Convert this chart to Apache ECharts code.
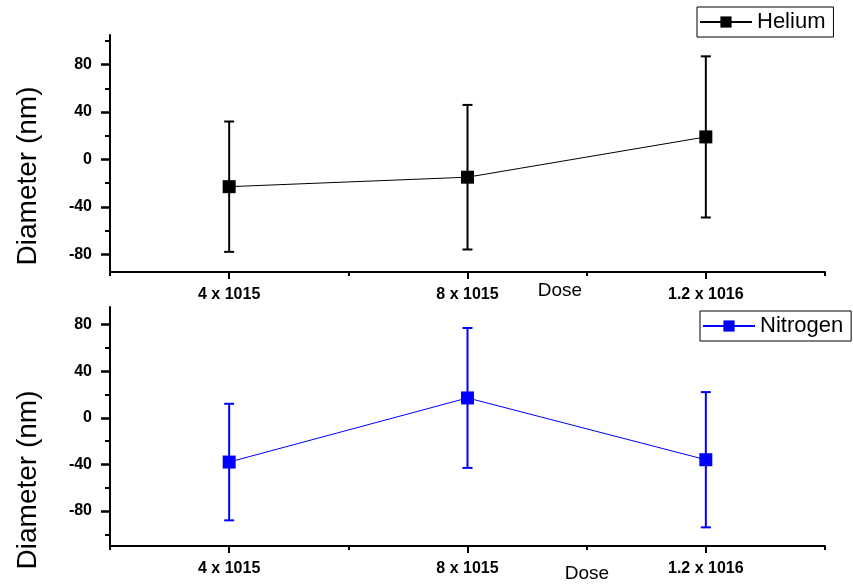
<!DOCTYPE html>
<html>
<head>
<meta charset="utf-8">
<script src="https://cdn.jsdelivr.net/npm/echarts@6/dist/echarts.min.js"></script>
<style>
  html, body { margin: 0; padding: 0; background: #fff; }
  #chart { width: 853px; height: 585px; }
</style>
</head>
<body>
<div id="chart"></div>
<script>
  var doses = ['4 x 1015', '8 x 1015', '1.2 x 1016']
  var heliumMean = [-23, -15, 19]
  var heliumErr = [55, 61, 68]
  var nitrogenMean = [-38, 17, -36]
  var nitrogenErr = [50, 60, 58]
  var yLabelTicks = [-80, -40, 0, 40, 80]
  var yMinorTopTicks = [-60, -20, 20, 60, 100]
  var yMinorBottomTicks = [-100, -60, -20, 20, 60]

  var font = 'Liberation Sans, Arial, sans-serif'
  var tickStyle = { color: '#000', width: 2 }

  function errData (mean, err) {
    return mean.map(function (m, i) { return [i, m - err[i], m + err[i]] })
  }

  function errRender (color) {
    return function (params, api) {
      var x = api.value(0)
      var lo = api.coord([x, api.value(1)])
      var hi = api.coord([x, api.value(2)])
      var cap = 5
      var st = { stroke: color, lineWidth: 2 }
      return {
        type: 'group',
        children: [
          { type: 'line', shape: { x1: lo[0], y1: lo[1], x2: hi[0], y2: hi[1] }, style: st },
          { type: 'line', shape: { x1: lo[0] - cap, y1: lo[1], x2: lo[0] + cap, y2: lo[1] }, style: st },
          { type: 'line', shape: { x1: hi[0] - cap, y1: hi[1], x2: hi[0] + cap, y2: hi[1] }, style: st }
        ]
      }
    }
  }

  function xAxes (grid) {
    return [{
      type: 'category', gridIndex: grid, data: doses, boundaryGap: true, position: 'bottom',
      axisLine: { show: false, onZero: false },
      axisTick: { show: true, interval: 0, length: 4, lineStyle: tickStyle },
      axisLabel: { show: false }
    }, {
      type: 'category', gridIndex: grid, data: doses, boundaryGap: true, position: 'bottom',
      axisLine: { show: true, onZero: false, lineStyle: { color: '#000', width: 2 } },
      axisTick: { show: true, interval: 0, alignWithLabel: true, length: 7, lineStyle: tickStyle },
      axisLabel: { color: '#000', fontWeight: 'bold', fontSize: 16, fontFamily: font, margin: 15 }
    }]
  }

  // labels on one axis, long ticks and short ticks on two more
  function yAxes (grid, min, max, minor) {
    return [{
      type: 'value', gridIndex: grid, min: min, max: max, position: 'left',
      splitLine: { show: false },
      axisLine: { show: true, lineStyle: { color: '#000', width: 2 } },
      axisTick: { show: false },
      axisLabel: { customValues: yLabelTicks, color: '#000', fontWeight: 'bold', fontSize: 16, fontFamily: font, margin: 18 }
    }, {
      type: 'value', gridIndex: grid, min: min, max: max, position: 'left',
      splitLine: { show: false },
      axisLine: { show: false },
      axisTick: { show: true, customValues: minor, length: 5, lineStyle: tickStyle },
      axisLabel: { show: false }
    }, {
      type: 'value', gridIndex: grid, min: min, max: max, position: 'left',
      splitLine: { show: false },
      axisLine: { show: false },
      axisTick: { show: true, customValues: yLabelTicks, length: 9, lineStyle: { color: '#000', width: 2.5 } },
      axisLabel: { show: false }
    }]
  }

  var legendBase = {
    orient: 'horizontal',
    borderColor: '#000', borderWidth: 1, borderRadius: 0,
    padding: [4, 8, 4, 2],
    itemWidth: 52, itemHeight: 14, itemGap: 4,
    textStyle: { color: '#000', fontSize: 22, fontFamily: font }
  }

  var chart = echarts.init(document.getElementById('chart'))
  var option = {
    animation: false,
    backgroundColor: '#fff',
    grid: [
      { left: 110, right: 28, top: 35, height: 237 },
      { left: 110, right: 28, top: 307, height: 239 }
    ],
    xAxis: xAxes(0).concat(xAxes(1)),
    yAxis: yAxes(0, -95, 105, yMinorTopTicks).concat(yAxes(1, -110, 95, yMinorBottomTicks)),
    legend: [
      Object.assign({}, legendBase, { data: ['Helium'], left: 697, top: 7 }),
      Object.assign({}, legendBase, { data: ['Nitrogen'], left: 700, top: 311 })
    ],
    graphic: [
      { type: 'text', x: 28, y: 176, rotation: Math.PI / 2,
        style: { text: 'Diameter (nm)', font: '28px ' + font, fill: '#000', align: 'center', verticalAlign: 'middle' } },
      { type: 'text', x: 28, y: 480, rotation: Math.PI / 2,
        style: { text: 'Diameter (nm)', font: '28px ' + font, fill: '#000', align: 'center', verticalAlign: 'middle' } },
      { type: 'text', x: 560, y: 291,
        style: { text: 'Dose', font: '19px ' + font, fill: '#000', align: 'center', verticalAlign: 'middle' } },
      { type: 'text', x: 587, y: 574,
        style: { text: 'Dose', font: '19px ' + font, fill: '#000', align: 'center', verticalAlign: 'middle' } }
    ],
    series: [
      {
        type: 'custom', name: 'HeliumErr', xAxisIndex: 1, yAxisIndex: 0,
        data: errData(heliumMean, heliumErr), renderItem: errRender('#000'), z: 2
      },
      {
        type: 'line', name: 'Helium', xAxisIndex: 1, yAxisIndex: 0, data: heliumMean,
        symbol: 'rect', symbolSize: 13, color: '#000',
        lineStyle: { color: '#000', width: 1 }, itemStyle: { color: '#000' }, z: 3
      },
      {
        type: 'custom', name: 'NitrogenErr', xAxisIndex: 3, yAxisIndex: 3,
        data: errData(nitrogenMean, nitrogenErr), renderItem: errRender('#0000ff'), z: 2
      },
      {
        type: 'line', name: 'Nitrogen', xAxisIndex: 3, yAxisIndex: 3, data: nitrogenMean,
        symbol: 'rect', symbolSize: 13, color: '#0000ff',
        lineStyle: { color: '#0000ff', width: 1 }, itemStyle: { color: '#0000ff' }, z: 3
      }
    ]
  }
  chart.setOption(option)
</script>
</body>
</html>
